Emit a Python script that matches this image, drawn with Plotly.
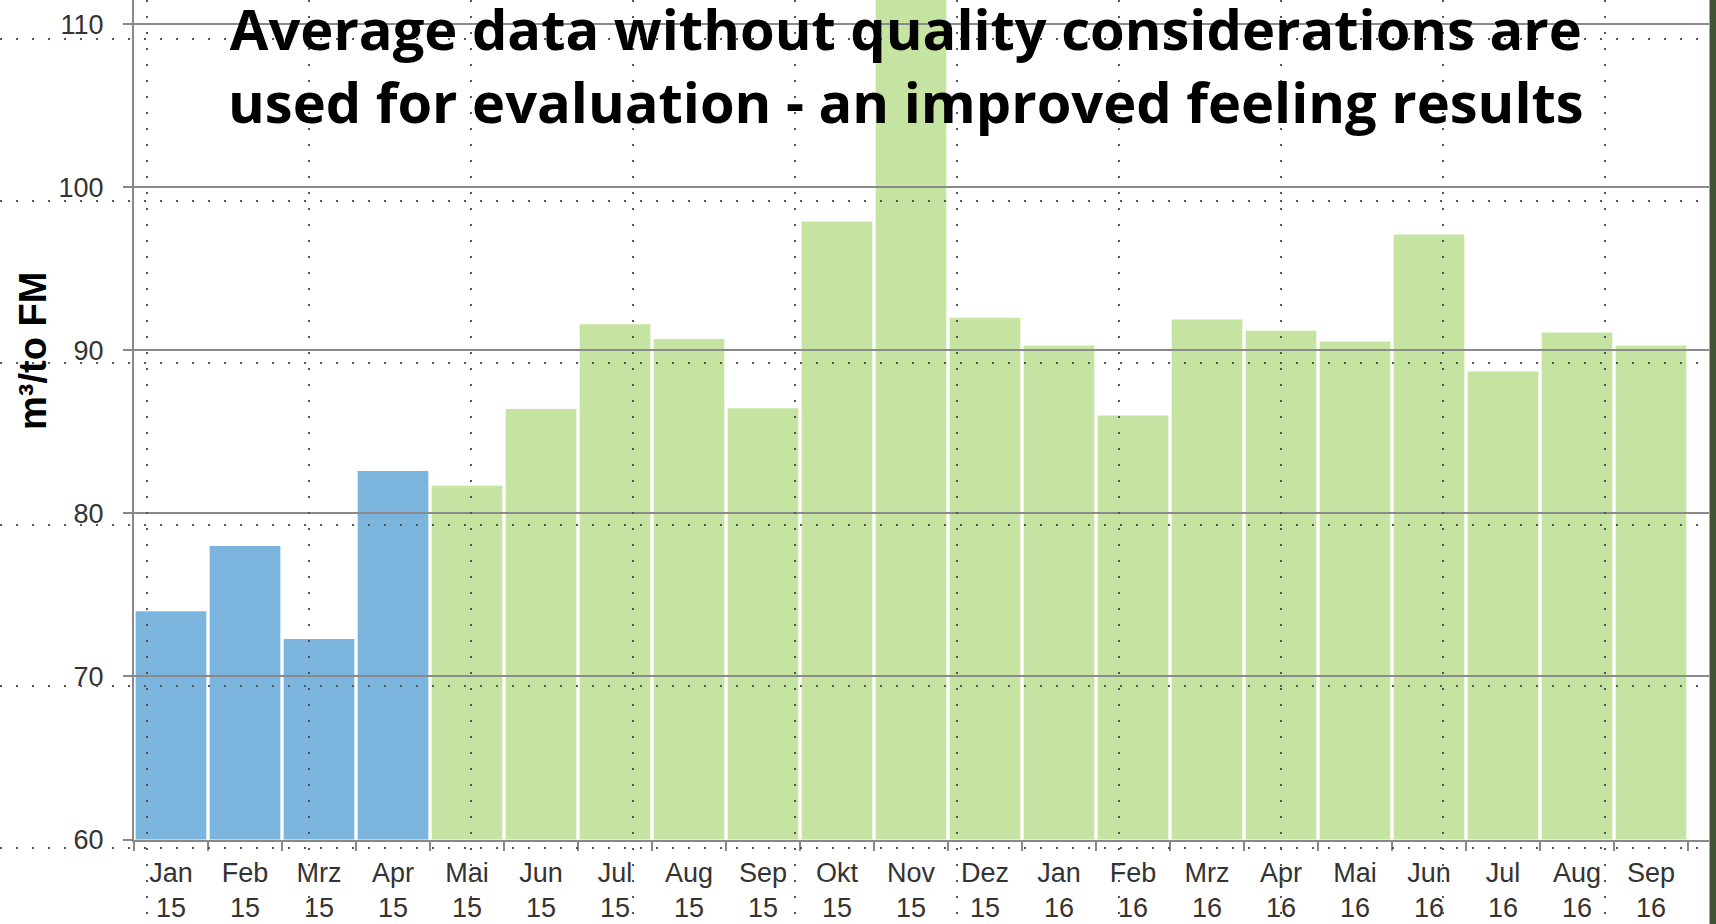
import plotly.graph_objects as go

# monthly values, m3/to FM
months = ["Jan", "Feb", "Mrz", "Apr", "Mai", "Jun", "Jul", "Aug", "Sep", "Okt", "Nov", "Dez",
          "Jan", "Feb", "Mrz", "Apr", "Mai", "Jun", "Jul", "Aug", "Sep"]
years = ["15"] * 12 + ["16"] * 9
values = [74.0, 78.0, 72.3, 82.6, 81.7, 86.4, 91.6, 90.7, 86.45, 97.9, 118.0, 92.0,
          90.3, 86.0, 91.9, 91.2, 90.55, 97.1, 88.7, 91.1, 90.3]
# first four months in blue, the rest in green
phase = ["old"] * 4 + ["new"] * 17

title = ("Average data without quality considerations are<br>"
         "used for evaluation - an improved feeling results")
y_title = "m³/to FM"
y_ticks = [60, 70, 80, 90, 100, 110]

labels = [f"{m}<br>{y}" for m, y in zip(months, years)]
W, H = 1716, 924

BLUE = "#7bb4dc"
GREEN = "#c6e4a1"

fig = go.Figure()
for key, color in [("old", BLUE), ("new", GREEN)]:
    xs = [l for l, p in zip(labels, phase) if p == key]
    ys = [v for v, p in zip(values, phase) if p == key]
    fig.add_trace(go.Bar(x=xs, y=ys, marker=dict(color=color, line=dict(width=0)),
                         showlegend=False, hoverinfo="x+y"))

# empty traces so the two grid overlays get their own subplots (drawn above the bars)
for ax in ["2", "3"]:
    fig.add_trace(go.Scatter(x=[], y=[], xaxis="x" + ax, yaxis="y" + ax,
                             showlegend=False, hoverinfo="skip"))

# plot area in pixels
x_dom = [134 / W, 1709 / W]
y_dom = [(H - 839.5) / H, 1]
y_range = [60, 60 + 839.5 / 16.304]
x_range = [-0.5, -0.5 + 1575 / 74.0]

axis_font = dict(family="Liberation Sans, Arial, sans-serif", size=27, color="#333333")
dots = dict(showticklabels=False, showgrid=True, gridcolor="#555555", gridwidth=2,
            griddash="2px,14px", zeroline=False, showline=False, ticks="", dtick=1,
            fixedrange=True)

fig.update_layout(
    width=W, height=H,
    template="none",
    paper_bgcolor="white", plot_bgcolor="rgba(0,0,0,0)",
    margin=dict(l=0, r=0, t=0, b=0),
    barmode="overlay", bargap=0.045,
    showlegend=False,
    # bars + axes with labels
    xaxis=dict(domain=x_dom, range=x_range, type="category", categoryorder="array",
               categoryarray=labels, tickson="boundaries", ticks="outside", ticklen=9,
               tickwidth=1.5, tickcolor="#888888", showline=True, linecolor="#888888",
               linewidth=2, showgrid=False, zeroline=False, tickfont=axis_font,
               ticklabelstandoff=8, layer="above traces", automargin=False,
               fixedrange=True, anchor="y"),
    yaxis=dict(domain=y_dom, range=y_range, tickvals=y_ticks, ticks="outside", ticklen=9,
               tickwidth=2, tickcolor="#888888", showline=True, linecolor="#888888",
               linewidth=2, showgrid=False, zeroline=False, tickfont=axis_font,
               ticklabelstandoff=14, layer="above traces", automargin=False,
               fixedrange=True, anchor="x"),
    # solid grid drawn over the bars
    xaxis2=dict(domain=x_dom, range=[0, 1], showgrid=False, showticklabels=False,
                zeroline=False, showline=False, ticks="", anchor="y2", fixedrange=True),
    yaxis2=dict(domain=y_dom, range=y_range, tickvals=y_ticks, showticklabels=False,
                showgrid=True, gridcolor="#8a8a8a", gridwidth=2, zeroline=False,
                showline=False, ticks="", anchor="x2", fixedrange=True),
    # dotted grid across the whole picture
    xaxis3=dict(domain=[0, 1], range=[-0.9083, 9.6869], anchor="y3", **dots),
    yaxis3=dict(domain=[0, 1], range=[-0.470, 5.244], anchor="x3", **dots),
    annotations=[
        dict(text=title, x=0.528, y=1, xref="paper", yref="paper", xanchor="center",
             yanchor="top", yshift=12, showarrow=False, align="center",
             font=dict(family="Open Sans, sans-serif", size=56, color="black", weight="bold")),
        dict(text=f"<b>{y_title}</b>", x=33 / W, y=1 - 351 / H, xref="paper", yref="paper",
             xanchor="center", yanchor="middle", textangle=-90, showarrow=False,
             font=dict(family="Liberation Sans, Arial, sans-serif", size=38, color="black")),
    ],
    shapes=[dict(type="rect", xref="paper", yref="paper", x0=1709.5 / W, x1=1, y0=0, y1=1,
                 fillcolor="#3e5434", line=dict(width=0), layer="above")],
)

fig.write_html("out.html", config={"displayModeBar": False},
               post_script="document.body.style.margin='0px';")
